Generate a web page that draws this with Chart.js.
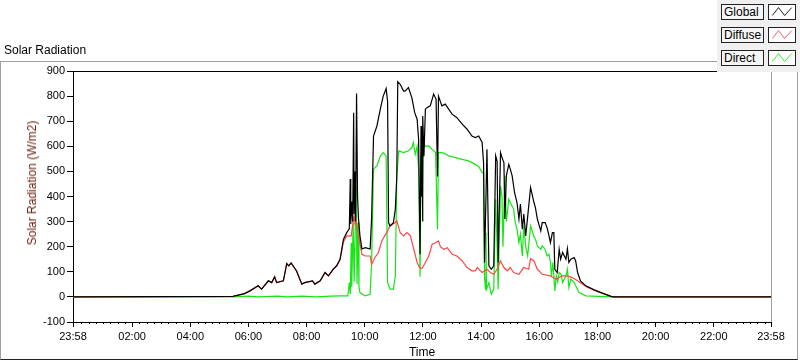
<!DOCTYPE html>
<html>
<head>
<meta charset="utf-8">
<script src="https://cdn.jsdelivr.net/npm/chart.js@4.4.1/dist/chart.umd.min.js"></script>
<style>
  body { margin: 0; background: #fff; font-family: "Liberation Sans", Arial, sans-serif; }
  #wrap { position: relative; width: 800px; height: 361px; overflow: hidden; }
  #frame { position: absolute; left: 0; top: 61px; width: 798px; height: 299px; box-sizing: border-box;
           border: 1px solid #a0a0a0; border-bottom-color: #222; }
  #c { position: absolute; left: 0; top: 0; }
  #title { position: absolute; left: 4px; top: 43px; font-size: 12px; color: #000; }
  #ytitle { position: absolute; left: 32px; top: 183px; font-size: 12px; color: #6a1e0c; white-space: nowrap;
            transform: translate(-50%, -50%) rotate(-90deg); }
  #legend { position: absolute; left: 717px; top: 0; width: 83px; height: 72px; background: #f0f0f0; }
  .lbl { position: absolute; left: 4px; width: 43px; height: 16px; box-sizing: border-box; border: 1px solid #222;
         background: #f6f6f6; font-size: 12px; line-height: 14px; padding-left: 2px; }
  .ico { position: absolute; left: 51px; width: 28px; height: 16px; box-sizing: border-box; border: 1px solid #222; background: #fff; }
</style>
</head>
<body>
<div id="wrap">
  <div id="frame"></div>
  <canvas id="c" width="800" height="361"></canvas>
  <div id="title">Solar Radiation</div>
  <div id="ytitle">Solar Radiation (W/m2)</div>
  <div id="legend"></div>
</div>
<script>
// minutes since midnight, 23:58 of the previous day is -2
const globalTimes = [-2, 328, 352, 363, 380, 387, 401, 408, 414, 418, 432, 439, 443, 448, 459, 470, 476, 492, 497, 508, 518, 525, 535, 542, 549, 556, 563, 568, 570, 571, 573, 575, 577, 578, 580, 581, 583, 585, 587, 590, 594, 601, 611, 614, 618, 625, 632, 638, 644, 647, 649, 652, 659, 663, 666, 668, 673, 680, 683, 690, 697, 703, 708, 711, 714, 716, 717, 718, 719, 720, 722, 725, 728, 735, 742, 747, 750, 752, 759, 766, 773, 780, 790, 801, 811, 821, 828, 835, 842, 845, 847, 850, 852, 856, 861, 866, 870, 873, 875, 880, 883, 887, 889, 892, 897, 900, 904, 909, 914, 918, 921, 925, 928, 932, 936, 942, 949, 952, 956, 963, 966, 972, 976, 980, 983, 987, 990, 992, 997, 1001, 1004, 1008, 1015, 1018, 1021, 1025, 1032, 1035, 1039, 1045, 1056, 1073, 1090, 1108, 1114, 1438];
const globalValues = [0, 2, 13, 24, 44, 31, 64, 57, 80, 57, 64, 133, 124, 135, 104, 51, 57, 64, 51, 64, 97, 84, 111, 124, 150, 230, 257, 271, 470, 290, 380, 300, 734, 330, 500, 300, 810, 400, 310, 243, 191, 196, 191, 310, 641, 681, 748, 800, 830, 780, 296, 283, 296, 350, 482, 857, 847, 820, 820, 834, 794, 734, 707, 628, 170, 681, 400, 615, 300, 721, 560, 748, 754, 761, 808, 788, 480, 800, 761, 768, 748, 728, 714, 688, 668, 641, 635, 641, 615, 535, 137, 400, 588, 124, 110, 124, 562, 540, 137, 575, 555, 535, 310, 482, 528, 510, 482, 415, 376, 310, 370, 270, 330, 243, 320, 436, 376, 356, 310, 263, 296, 296, 276, 243, 216, 256, 256, 110, 97, 190, 150, 177, 150, 192, 137, 150, 157, 143, 97, 64, 44, 28, 15, 2, 0, 0];

const diffuseTimes = [-2, 328, 352, 363, 380, 387, 401, 408, 414, 418, 432, 439, 443, 448, 459, 470, 476, 492, 497, 508, 518, 525, 535, 542, 549, 556, 563, 572, 576, 578, 580, 583, 587, 594, 601, 611, 614, 621, 628, 635, 645, 652, 663, 666, 673, 680, 687, 694, 701, 708, 713, 718, 725, 732, 739, 746, 752, 756, 763, 770, 780, 790, 801, 811, 821, 828, 832, 842, 852, 859, 866, 873, 880, 887, 894, 900, 907, 918, 928, 938, 942, 949, 956, 963, 966, 983, 994, 1001, 1008, 1018, 1028, 1039, 1049, 1056, 1073, 1090, 1111, 1438];
const diffuseValues = [0, 2, 13, 24, 44, 31, 64, 57, 80, 57, 64, 133, 124, 135, 104, 51, 57, 64, 51, 64, 97, 84, 111, 124, 150, 220, 243, 243, 300, 323, 290, 296, 243, 170, 163, 163, 130, 157, 176, 223, 256, 283, 296, 303, 256, 243, 256, 243, 190, 137, 117, 113, 137, 163, 210, 216, 223, 200, 190, 196, 170, 163, 143, 117, 104, 104, 117, 97, 110, 97, 90, 110, 143, 117, 104, 117, 97, 90, 117, 110, 153, 143, 110, 97, 90, 84, 71, 77, 84, 84, 77, 64, 51, 42, 27, 14, 0, 0];

const directTimes = [-2, 328, 360, 380, 420, 440, 470, 500, 530, 549, 565, 568, 570, 572, 573, 576, 578, 582, 584, 586, 588, 590, 601, 611, 614, 618, 625, 632, 638, 644, 647, 652, 659, 663, 666, 670, 680, 690, 697, 700, 704, 708, 711, 714, 716, 718, 719, 721, 725, 732, 739, 746, 750, 752, 759, 766, 773, 787, 801, 814, 828, 835, 842, 845, 847, 849, 850, 851, 856, 861, 866, 870, 873, 875, 880, 883, 885, 889, 892, 897, 900, 907, 910, 914, 918, 921, 925, 928, 932, 936, 942, 949, 952, 956, 963, 966, 972, 976, 980, 983, 985, 988, 992, 995, 998, 1001, 1005, 1008, 1015, 1018, 1021, 1025, 1032, 1035, 1042, 1056, 1108, 1438];
const directValues = [0, 0, 3, 0, 3, 0, 3, 0, 3, 4, 4, 57, 10, 216, 40, 296, 60, 442, 50, 296, 40, 17, 4, 10, 137, 509, 522, 562, 575, 562, 57, 31, 31, 84, 482, 582, 575, 582, 595, 615, 568, 600, 509, 80, 560, 495, 420, 615, 600, 602, 588, 575, 270, 575, 575, 570, 562, 555, 548, 542, 528, 520, 495, 495, 80, 31, 256, 31, 57, 11, 31, 389, 200, 31, 442, 400, 200, 482, 300, 389, 376, 350, 300, 270, 216, 250, 163, 283, 200, 163, 283, 240, 230, 203, 190, 203, 190, 163, 170, 137, 84, 137, 24, 84, 60, 97, 90, 57, 84, 110, 37, 71, 57, 44, 17, 4, 0, 0];

const seriesNames = ['Global', 'Diffuse', 'Direct'];
const seriesColors = ['#000000', '#ff4646', '#16e616'];
const xTickMinutes = [-2, 120, 240, 360, 480, 600, 720, 840, 960, 1080, 1200, 1320, 1438];
const yTickValues = [-100, 0, 100, 200, 300, 400, 500, 600, 700, 800, 900];

const FONT = '"Liberation Sans", Arial, sans-serif';

function fmt(m) {
  const t = (m + 1440) % 1440;
  const h = Math.floor(t / 60), mm = t % 60;
  return String(h).padStart(2, '0') + ':' + String(mm).padStart(2, '0');
}

function pts(ts, vs) {
  return ts.map((t, i) => ({x: t, y: vs[i]}));
}

// legend boxes
const legend = document.getElementById('legend');
seriesNames.forEach((name, i) => {
  const top = 4 + i * 23;
  legend.insertAdjacentHTML('beforeend',
    `<div class="lbl" style="top:${top}px">${name}</div>` +
    `<svg class="ico" style="top:${top}px" viewBox="0 0 28 16"><polyline points="3,12 10,3 17,12 25,3" fill="none" stroke="${seriesColors[i]}" stroke-width="1"/></svg>`);
});

const frame = {
  id: 'frame',
  afterDraw(c) {
    const {ctx, chartArea: a, scales: {x}} = c;
    ctx.save();
    ctx.lineWidth = 1;
    ctx.strokeStyle = '#000';
    ctx.beginPath();
    ctx.moveTo(a.left, a.top + 0.5);
    ctx.lineTo(a.right, a.top + 0.5);
    ctx.stroke();
    ctx.strokeStyle = '#a0a0a0';
    ctx.beginPath();
    ctx.moveTo(a.right + 0.5, a.top);
    ctx.lineTo(a.right + 0.5, a.bottom);
    ctx.stroke();
    // minor ticks every 15 min
    ctx.strokeStyle = '#000';
    ctx.beginPath();
    for (let m = 15; m < 1438; m += 15) {
      if (m % 120 === 0) continue;
      const px = Math.round(x.getPixelForValue(m)) + 0.5;
      ctx.moveTo(px, a.bottom);
      ctx.lineTo(px, a.bottom + 2);
    }
    ctx.stroke();
    ctx.restore();
  }
};

new Chart(document.getElementById('c'), {
  type: 'line',
  data: {
    datasets: [
      {label: 'Global', data: pts(globalTimes, globalValues), borderColor: seriesColors[0]},
      {label: 'Diffuse', data: pts(diffuseTimes, diffuseValues), borderColor: seriesColors[1]},
      {label: 'Direct', data: pts(directTimes, directValues), borderColor: seriesColors[2]}
    ]
  },
  options: {
    responsive: false,
    animation: false,
    parsing: false,
    elements: {line: {borderWidth: 1.2, tension: 0}, point: {radius: 0}},
    layout: {padding: {left: 0, top: 71, right: 29, bottom: 0}},
    plugins: {legend: {display: false}, tooltip: {enabled: false}},
    scales: {
      x: {
        type: 'linear', min: -2, max: 1438,
        afterBuildTicks: s => { s.ticks = xTickMinutes.map(v => ({value: v})); },
        afterFit: s => { s.height = 39; },
        grid: {drawOnChartArea: false, drawTicks: true, tickLength: 5, color: '#000'},
        border: {display: true, color: '#000'},
        ticks: {padding: 3, color: '#000', font: {size: 11, family: FONT}, maxRotation: 0, autoSkip: false,
                callback: v => fmt(v)},
        title: {display: true, text: 'Time', color: '#000', font: {size: 12, family: FONT}, padding: {top: 0, bottom: 1}}
      },
      y: {
        min: -100, max: 900,
        afterBuildTicks: s => { s.ticks = yTickValues.map(v => ({value: v})); },
        afterFit: s => { s.width = 73; },
        grid: {drawOnChartArea: false, drawTicks: true, tickLength: 6, color: '#000'},
        border: {display: true, color: '#000'},
        ticks: {padding: 2, color: '#000', font: {size: 11, family: FONT}}
      }
    }
  },
  plugins: [frame]
});
</script>
</body>
</html>
